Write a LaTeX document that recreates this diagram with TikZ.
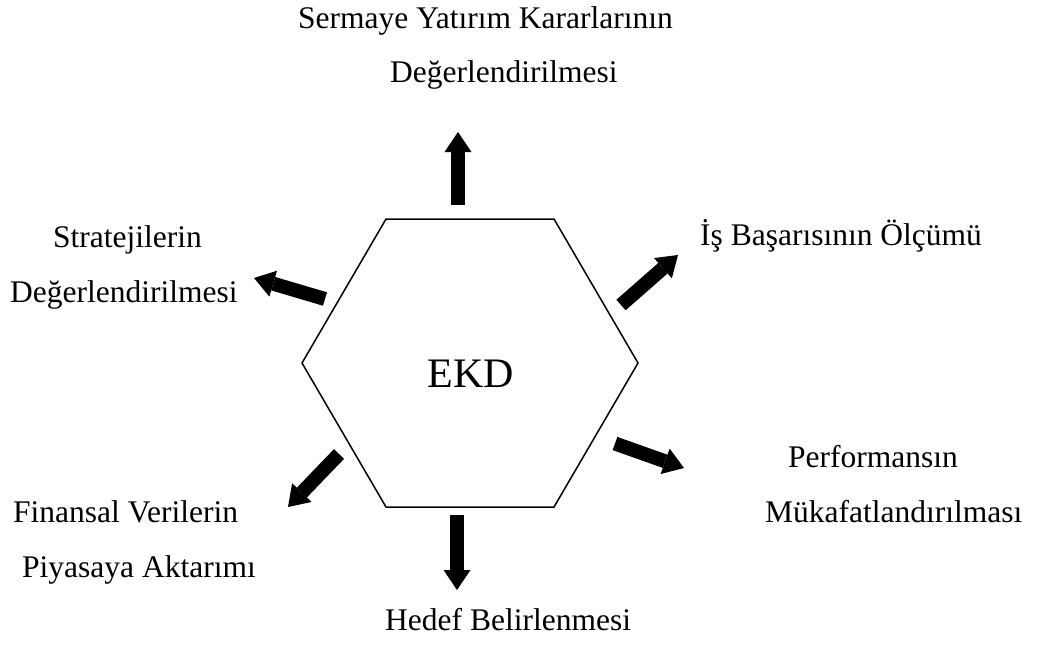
\documentclass[tikz,border=0pt]{standalone}
\usepackage{fontspec}
\setmainfont{Liberation Serif}
\usetikzlibrary{arrows.meta}

\tikzset{
  lbl/.style={inner sep=0pt, anchor=base west, font=\fontsize{31.5}{38}\selectfont},
  hexline/.style={draw=black, line width=1.5pt, line join=miter},
  bigarrow/.style={line width=14pt,
    -{Triangle[width=27pt,length=20pt,line width=0pt]}},
}

\begin{document}
\begin{tikzpicture}[x=1pt,y=-1pt]
  \useasboundingbox (0,0) rectangle (1042,646);

  % central hexagon
  \coordinate (v1) at (386,219);
  \coordinate (v2) at (554,219);
  \coordinate (v3) at (638,363);
  \coordinate (v4) at (554,507);
  \coordinate (v5) at (386,507);
  \coordinate (v6) at (302,363);
  \draw[hexline] (v1) -- (v2) -- (v3) -- (v4) -- (v5) -- (v6) -- cycle;
  \node[inner sep=0pt, anchor=base, font=\fontsize{42}{50}\selectfont] (ekd) at (471,387) {EKD};

  % arrow ends
  \coordinate (upT) at (458,205);   \coordinate (upH) at (458,132);
  \coordinate (neT) at (621,305);   \coordinate (neH) at (678,255);
  \coordinate (seT) at (615,443.5); \coordinate (seH) at (684,468);
  \coordinate (dnT) at (457,515);   \coordinate (dnH) at (457,590);
  \coordinate (swT) at (339,454);   \coordinate (swH) at (288,507);
  \coordinate (nwT) at (325,299);   \coordinate (nwH) at (254,278);

  \draw[bigarrow] (upT) -- (upH);
  \draw[bigarrow] (neT) -- (neH);
  \draw[bigarrow] (seT) -- (seH);
  \draw[bigarrow] (dnT) -- (dnH);
  \draw[bigarrow] (swT) -- (swH);
  \draw[bigarrow] (nwT) -- (nwH);

  % labels
  \node[lbl] (top1) at (298,28) {Sermaye Yatırım Kararlarının};
  \node[lbl] (top2) at (390,82) {Değerlendirilmesi};
  \node[lbl] (left1) at (53,247) {Stratejilerin};
  \node[lbl] (left2) at (10,302) {Değerlendirilmesi};
  \node[lbl] (right1) at (700,245) {İş Başarısının Ölçümü};
  \node[lbl] (perf1) at (788,467) {Performansın};
  \node[lbl] (perf2) at (765,522) {Mükafatlandırılması};
  \node[lbl] (fin1) at (13,522) {Finansal Verilerin};
  \node[lbl] (fin2) at (22,577) {Piyasaya Aktarımı};
  \node[lbl] (bottom) at (385,630) {Hedef Belirlenmesi};
\end{tikzpicture}
\end{document}
